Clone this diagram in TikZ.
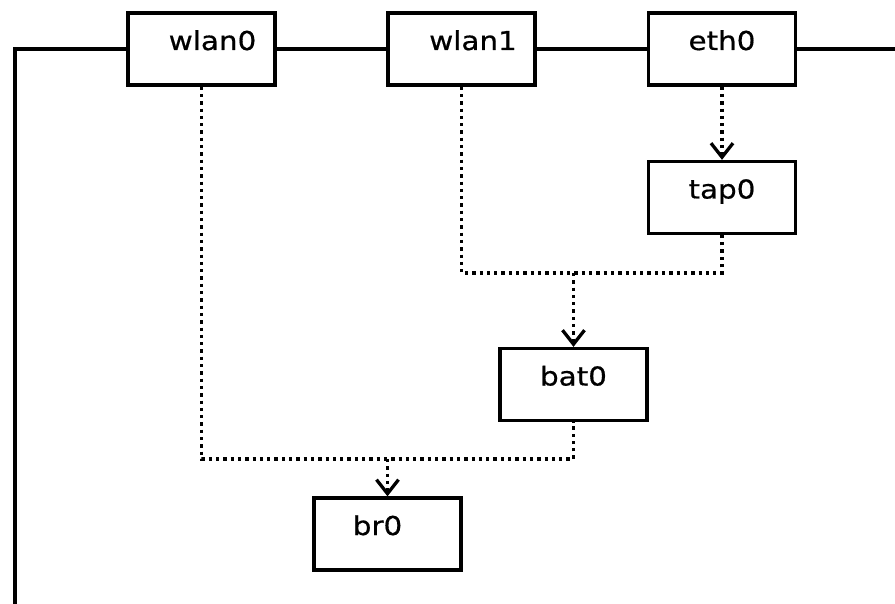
\documentclass[tikz,border=0pt]{standalone}
\usepackage{fontspec}
\newfontfamily\lblfont[FakeStretch=1.13,FakeBold=0.6]{DejaVu Sans}
\usetikzlibrary{arrows.meta}
\begin{document}
\begin{tikzpicture}[x=1pt,y=-1pt,
  ifbox/.style={draw, line width=3.3pt, fill=white, minimum width=147pt,
    inner xsep=0pt, inner ysep=0pt, text height=37pt, text depth=35pt,
    font=\lblfont\fontsize{26pt}{30pt}\selectfont},
  nudge right/.style={execute at begin node={\hspace*{#1}}},
  nudge left/.style={execute at end node={\hspace*{#1}}},
  wire/.style={line width=3.3pt},
  link/.style={line width=3.3pt, dash pattern=on 3.3pt off 4pt},
  flow/.style={link, -{Straight Barb[length=14pt,width=22pt,line width=3.3pt]}}]
\useasboundingbox (0,0) rectangle (895,604);

% physical wire
\coordinate (wire-bot) at (15,604);
\coordinate (wire-top) at (15,49);
\coordinate (wire-end) at (895,49);

% interfaces
\node[ifbox, nudge right=22pt] (wlan0) at (201.5,49) {wlan0};
\node[ifbox, nudge right=23pt] (wlan1) at (461.5,49) {wlan1};
\node[ifbox] (eth0) at (722,49) {eth0};
\node[ifbox] (tap0) at (722,197.5) {tap0};
\node[ifbox] (bat0) at (573.5,384.5) {bat0};
\node[ifbox, nudge left=20pt] (br0) at (387.5,534) {br0};

% junction points
\coordinate (j-bat) at (573.5,273);
\coordinate (j-br) at (387.5,459);

\draw[wire] (wire-bot) -- (wire-top) -- (wlan0.west);
\draw[wire] (wlan0.east) -- (wlan1.west);
\draw[wire] (wlan1.east) -- (eth0.west);
\draw[wire] (eth0.east) -- (wire-end);

% logical links
\draw[flow] (eth0.south) -- (tap0.north);
\draw[link] (wlan1.south) -- (wlan1.south |- j-bat) -- (tap0.south |- j-bat) -- (tap0.south);
\draw[flow] (j-bat) -- (bat0.north);
\draw[link] (wlan0.south) -- (wlan0.south |- j-br) -- (bat0.south |- j-br) -- (bat0.south);
\draw[flow] (j-br) -- (br0.north);
\end{tikzpicture}
\end{document}
